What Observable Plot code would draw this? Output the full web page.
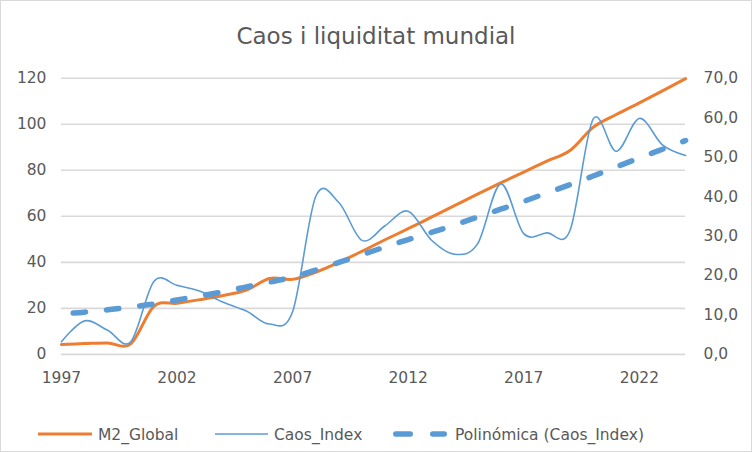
<!DOCTYPE html>
<html><head><meta charset="utf-8">
<script src="https://cdn.jsdelivr.net/npm/d3@7"></script>
<script src="https://cdn.jsdelivr.net/npm/@observablehq/plot@0.6"></script>
<style>
html,body{margin:0;padding:0;background:#fff;}
#wrap{position:relative;width:752px;height:452px;box-sizing:border-box;border:1px solid #d9d9d9;overflow:hidden;font-family:"DejaVu Sans";}
#title{position:absolute;left:-1px;top:24px;width:752px;text-align:center;font-size:23px;line-height:23px;color:#595959;white-space:nowrap;}
#chart{position:absolute;left:-1px;top:59px;}
#legend{position:absolute;left:-1px;top:409px;}
</style></head><body>
<div id="wrap"><div id="title">Caos i liquiditat mundial</div><div id="chart"></div><div id="legend"></div></div>
<script>
const titleText = "Caos i liquiditat mundial";
const years = [1997,1998,1999,2000,2001,2002,2003,2004,2005,2006,2007,2008,2009,2010,2011,2012,2013,2014,2015,2016,2017,2018,2019,2020,2021,2022,2023,2024];
const m2 = [4.3,4.7,5.0,4.6,20.9,22.2,23.8,25.6,27.9,33.0,32.6,35.7,40.0,44.8,49.8,54.6,59.6,64.6,69.6,74.5,79.2,84.0,88.6,98.6,104.2,109.3,114.5,119.8];
const caos = [3.2,8.5,6.1,3.2,18.5,17.5,16.0,13.2,11.0,7.7,10.8,40.0,38.5,28.9,32.6,36.3,29.0,25.4,28.0,43.2,30.6,30.8,31.4,59.6,51.5,59.8,53.1,50.4];
const trend = [10.3,10.7,11.3,12.0,12.8,13.8,14.8,15.9,17.1,18.3,19.6,21.4,23.3,25.3,27.2,29.1,30.9,32.8,34.8,36.8,38.8,40.9,43.0,45.2,47.5,49.8,52.0,54.2];
const leftTicks = [0,20,40,60,80,100,120];
const rightTicks = [0,10,20,30,40,50,60,70];
const xTicks = [1997,2002,2007,2012,2017,2022];
const seriesNames = ["M2_Global","Caos_Index","Polinómica (Caos_Index)"];
const colors = {m2:"#ED7D31", caos:"#5B9BD5"};

const K = 120/70; // secondary axis mapping
const data = years.map((yr,i)=>({year:yr, m2:m2[i], caos:caos[i], trend:trend[i]}));

const chart = Plot.plot({
  width:752, height:340,
  marginTop:17.7, marginBottom:45.7, marginLeft:61, marginRight:66,
  style:{fontFamily:"DejaVu Sans", fontSize:"15.5px", color:"#595959", background:"transparent", overflow:"visible"},
  x:{domain:[1997,2024], label:null},
  y:{domain:[0,120], label:null},
  marks:[
    Plot.gridY(leftTicks, {stroke:"#d9d9d9", strokeOpacity:1, strokeWidth:1.6}),
    Plot.axisY(leftTicks, {anchor:"left", tickSize:0, tickPadding:15, label:null}),
    Plot.axisY(rightTicks.map(v=>v*K), {anchor:"right", tickSize:0, tickPadding:18, label:null,
      tickFormat:d=>(d/K).toFixed(1).replace(".",",")}),
    Plot.axisX(xTicks, {anchor:"bottom", tickSize:0, tickPadding:18, label:null, tickFormat:d=>String(d)}),
    Plot.line(data, {x:"year", y:"m2", stroke:colors.m2, strokeWidth:3, curve:"cardinal", tension:0}),
    Plot.line(data, {x:"year", y:d=>d.trend*K, stroke:colors.caos, strokeWidth:5.5,
      strokeDasharray:"12.5,21", strokeDashoffset:21.75, strokeLinecap:"round", curve:"natural"}),
    Plot.line(data, {x:"year", y:d=>d.caos*K, stroke:colors.caos, strokeWidth:1.6, curve:"cardinal", tension:0})
  ]
});
document.getElementById("chart").appendChild(chart);

// legend
const lg = d3.create("svg").attr("width",752).attr("height",42)
  .style("font-family","DejaVu Sans").style("font-size","15.5px");
const ly = 24, ty = 29.6;
lg.append("line").attr("x1",38).attr("x2",92).attr("y1",ly).attr("y2",ly)
  .attr("stroke",colors.m2).attr("stroke-width",3);
lg.append("text").attr("x",98).attr("y",ty).attr("fill","#595959").text(seriesNames[0]);
lg.append("line").attr("x1",215).attr("x2",268).attr("y1",ly).attr("y2",ly)
  .attr("stroke",colors.caos).attr("stroke-width",1.6);
lg.append("text").attr("x",274).attr("y",ty).attr("fill","#595959").text(seriesNames[1]);
lg.append("line").attr("x1",395.75).attr("x2",444.25).attr("y1",ly).attr("y2",ly)
  .attr("stroke",colors.caos).attr("stroke-width",5.5).attr("stroke-linecap","round")
  .attr("stroke-dasharray","14.5,22.5");
lg.append("text").attr("x",455).attr("y",ty).attr("fill","#595959").text(seriesNames[2]);
document.getElementById("legend").appendChild(lg.node());
document.getElementById("title").textContent = titleText;
</script>
</body></html>
